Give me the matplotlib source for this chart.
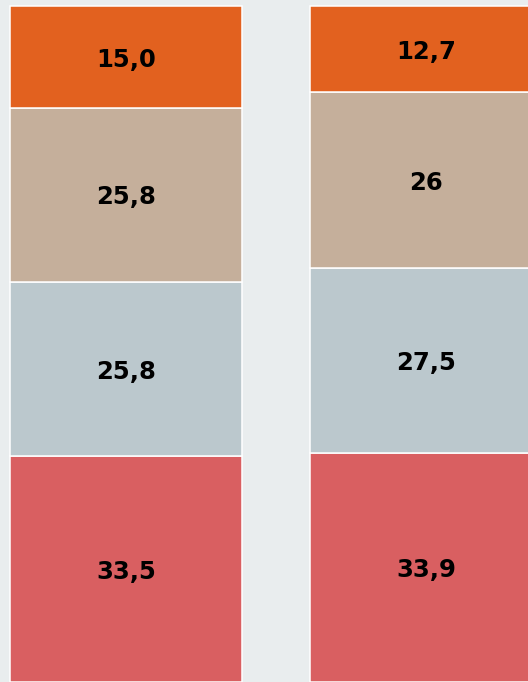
import matplotlib.pyplot as plt

# stacked shares per column, bottom to top
columns = [0, 1]
share_red = [33.5, 33.9]
share_blue = [25.8, 27.5]
share_tan = [25.8, 26.0]
share_orange = [15.0, 12.7]
labels_red = ["33,5", "33,9"]
labels_blue = ["25,8", "27,5"]
labels_tan = ["25,8", "26"]
labels_orange = ["15,0", "12,7"]

bg = "#e9edee"
layers = [
    (share_red, labels_red, "#d95f61"),
    (share_blue, labels_blue, "#bbc8cd"),
    (share_tan, labels_tan, "#c5af9b"),
    (share_orange, labels_orange, "#e2611f"),
]

fig = plt.figure(figsize=(5.28, 6.82), dpi=100)
fig.patch.set_facecolor(bg)
ax = fig.add_axes([0, 0, 1, 1])
ax.set_facecolor(bg)

bottom = [0.0, 0.0]
for vals, labs, color in layers:
    ax.bar(columns, vals, width=0.7733, bottom=bottom, color=color,
           edgecolor="white", linewidth=1.1)
    for x, b, v, lab in zip(columns, bottom, vals, labs):
        ax.text(x, b + v / 2 - 0.4, lab, ha="center", va="center",
                fontsize=17.5, fontweight="bold", color="black",
                family="DejaVu Sans")
    bottom = [b + v for b, v in zip(bottom, vals)]

ax.set_xlim(-0.42, 1.34)
ax.set_ylim(0, 101.06)
ax.axis("off")

fig.savefig("out.png", dpi=100, facecolor=bg)
